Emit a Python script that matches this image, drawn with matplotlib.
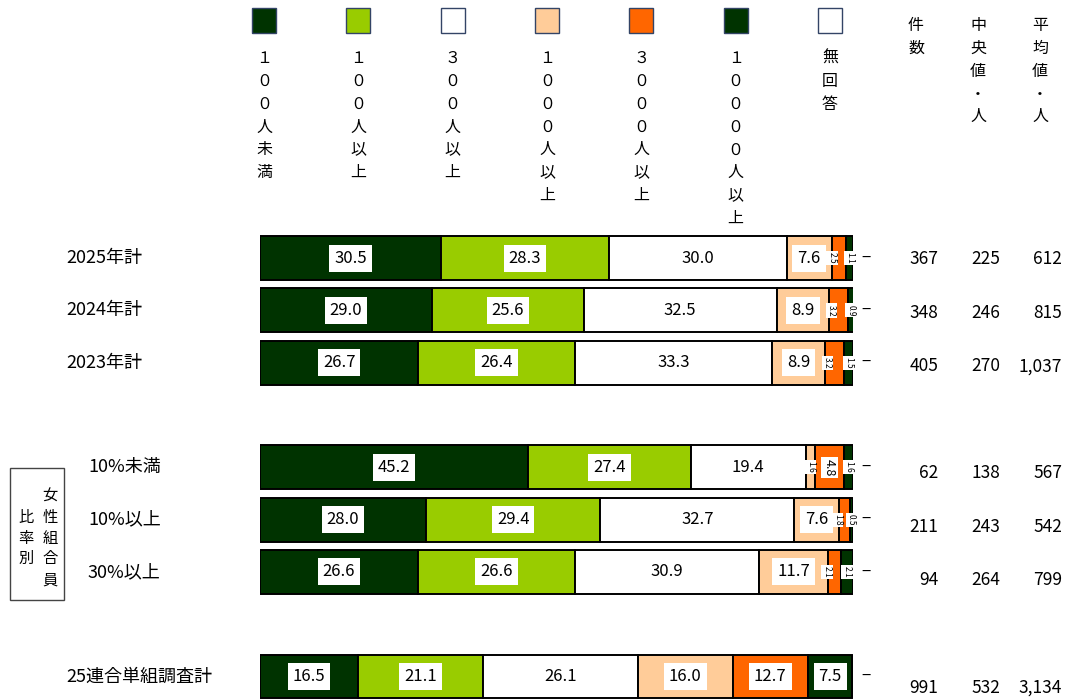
import matplotlib.pyplot as plt
from matplotlib.patches import Rectangle
from matplotlib.transforms import blended_transform_factory

plt.rcParams['font.family'] = ['Noto Sans CJK JP', 'DejaVu Sans']

# rows of the chart
rows = ['2025年計', '2024年計', '2023年計', '10%未満', '10%以上', '30%以上', '25連合単組調査計']
ypos = [0, 1, 2, 4, 5, 6, 8]
indent = [False, False, False, True, True, True, False]

categories = ['１００人未満', '１００人以上', '３００人以上', '１０００人以上',
              '３０００人以上', '１００００人以上', '無回答']
colors = ['#003300', '#99CC00', '#FFFFFF', '#FFCC99', '#FF6600', '#003300', '#FFFFFF']

s100u = [30.5, 29.0, 26.7, 45.2, 28.0, 26.6, 16.5]
s100 = [28.3, 25.6, 26.4, 27.4, 29.4, 26.6, 21.1]
s300 = [30.0, 32.5, 33.3, 19.4, 32.7, 30.9, 26.1]
s1000 = [7.6, 8.9, 8.9, 1.6, 7.6, 11.7, 16.0]
s3000 = [2.5, 3.2, 3.2, 4.8, 1.8, 2.1, 12.7]
s10000 = [1.1, 0.9, 1.5, 1.6, 0.5, 2.1, 7.5]
no_answer = [0, 0, 0, 0, 0, 0, 0]   # shown as "−"
series = [s100u, s100, s300, s1000, s3000, s10000, no_answer]

counts = ['367', '348', '405', '62', '211', '94', '991']
medians = ['225', '246', '270', '138', '243', '264', '532']
means = ['612', '815', '1,037', '567', '542', '799', '3,134']

W, H = 1068, 699
fig = plt.figure(figsize=(W / 100, H / 100), dpi=100)

def fx(x):
    return x / W

def fy(y):
    return 1 - y / H

ax = fig.add_axes([fx(260), fy(699), fx(853) - fx(260), (699 - 232) / H])
ax.set_xlim(0, 100)
ax.set_ylim(8.43, -0.5)
ax.axis('off')

box = dict(boxstyle='square,pad=0.3', facecolor='white', edgecolor='none')
sbox = dict(boxstyle='square,pad=0.15', facecolor='white', edgecolor='none')
lefts = [0.0] * len(rows)
for k, (vals, c) in enumerate(zip(series, colors)):
    ax.barh(ypos, vals, left=lefts, height=0.84, color=c, edgecolor='black', linewidth=1.4)
    for i, v in enumerate(vals):
        cx = lefts[i] + v / 2
        # nudge a tiny label left when its right neighbour is tiny too
        if v < 4 and k + 1 < len(series) and 0 < series[k + 1][i] < 4:
            cx -= 1.2
        if v >= 6:
            ax.text(cx, ypos[i], f'{v:.1f}', ha='center', va='center', fontsize=12, bbox=box)
        elif v >= 4:
            ax.text(cx, ypos[i], f'{v:.1f}', ha='center', va='center', fontsize=9,
                    rotation=270, bbox=sbox)
        elif v > 0:
            ax.text(cx, ypos[i], f'{v:.1f}', ha='center', va='center', fontsize=6,
                    rotation=270, bbox=sbox)
    lefts = [l + v for l, v in zip(lefts, vals)]

# no answer dash
for i, v in enumerate(no_answer):
    if v == 0:
        ax.text(102.2, ypos[i], '−', ha='center', va='center', fontsize=12)

trans = blended_transform_factory(fig.transFigure, ax.transData)
for i, name in enumerate(rows):
    x0 = 88 if indent[i] else 66
    ax.text(fx(x0), ypos[i], name, transform=trans, ha='left', va='center', fontsize=13)
    yv = ypos[i] + (1 + 1.25 * ypos[i]) / 52.3
    ax.text(fx(938), yv, counts[i], transform=trans, ha='right', va='center', fontsize=12.5)
    ax.text(fx(1000), yv, medians[i], transform=trans, ha='right', va='center', fontsize=12.5)
    ax.text(fx(1062), yv, means[i], transform=trans, ha='right', va='center', fontsize=12.5)

# legend with vertical labels
for k, (cat, c) in enumerate(zip(categories, colors)):
    cx = 264 + k * 94.33
    fig.add_artist(Rectangle((fx(cx - 12), fy(33)), 24 / W, 25 / H, transform=fig.transFigure,
                             facecolor=c, edgecolor='#334466', linewidth=1))
    fig.text(fx(cx), fy(50), '\n'.join(cat), ha='center', va='top', fontsize=11.5, linespacing=1.45)

# column headers
for cx, head in [(916, '件数'), (978, '中央値・人'), (1040, '平均値・人')]:
    fig.text(fx(cx), fy(17), '\n'.join(head), ha='center', va='top', fontsize=11.5, linespacing=1.45)

# group box
fig.add_artist(Rectangle((fx(10), fy(600)), 54 / W, 132 / H, transform=fig.transFigure,
                         facecolor='none', edgecolor='#444444', linewidth=1))
fig.text(fx(50), fy(538), '\n'.join('女性組合員'), ha='center', va='center', fontsize=11, linespacing=1.3)
fig.text(fx(26), fy(538), '\n'.join('比率別'), ha='center', va='center', fontsize=11, linespacing=1.3)

fig.savefig('out.png', dpi=100)
